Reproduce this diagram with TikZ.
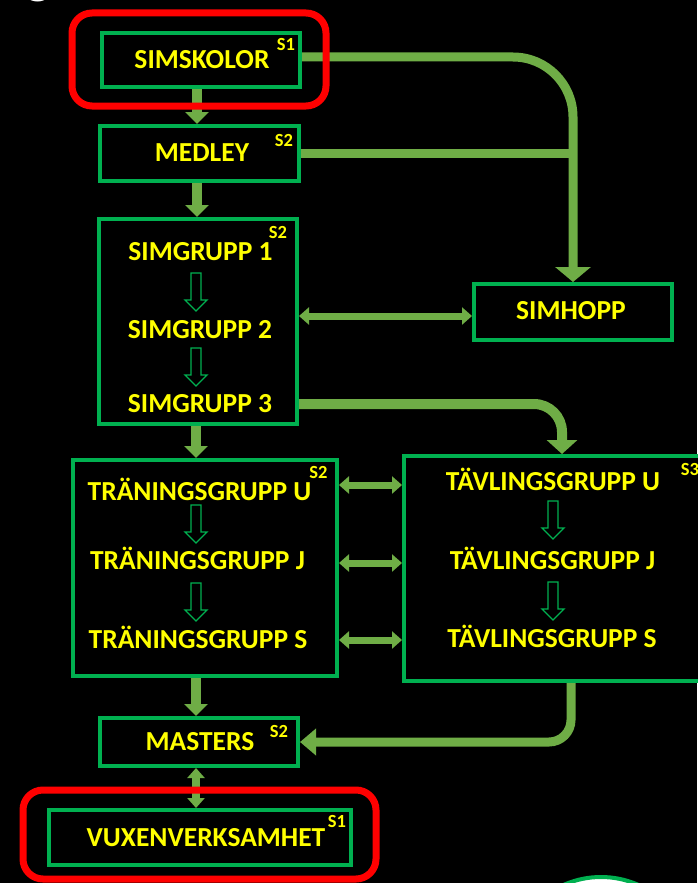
\documentclass[tikz,border=0pt]{standalone}
\usepackage{fontspec}
\setmainfont{Carlito}
\usetikzlibrary{arrows.meta,calc}
\definecolor{boxg}{HTML}{00B050}
\definecolor{cong}{HTML}{6FAD46}
\definecolor{ylw}{HTML}{FFFF00}
\tikzset{
  box/.style={draw=boxg, line width=4pt, fill=black, inner sep=0pt, rectangle},
  redbox/.style={draw=red, line width=7pt, rounded corners=20pt, inner sep=0pt, rectangle},
  lbl/.style={text=ylw, font=\fontsize{27.5}{30}\selectfont\bfseries, anchor=base, inner sep=0pt},
  suplbl/.style={text=ylw, font=\fontsize{18.5}{20}\selectfont\bfseries, anchor=base, inner sep=0pt},
  conn/.style={draw=cong, line width=10pt},
  dblconn/.style={draw=cong, line width=7pt, {Triangle[width=17pt,length=10pt]}-{Triangle[width=17pt,length=10pt]}},
  hdown/.pic={\draw[boxg, line width=1.3pt, fill=black] (-5,0) -- (-5,27) -- (-11,27) -- (0,38) -- (11,27) -- (5,27) -- (5,0) -- cycle;}
}
\begin{document}
\begin{tikzpicture}[x=1pt,y=-1pt]
\useasboundingbox (0,0) rectangle (697,883);
\fill[black] (0,0) rectangle (697,883);
% cut-off fragments
\node[text=white, font=\fontsize{55}{60}\selectfont, anchor=base, inner sep=0pt] (gfrag) at (38,-7) {g};
\draw[boxg, line width=4pt, fill=white] (601,969) circle (92);
% boxes
\node[box, minimum width=198, minimum height=54] (simsk) at (201,60) {};
\node[box, minimum width=199, minimum height=55] (medley) at (199.5,153.5) {};
\node[box, minimum width=198, minimum height=205] (simgrupp) at (198,321.5) {};
\node[box, minimum width=198, minimum height=56] (simhopp) at (573,312) {};
\node[box, minimum width=264, minimum height=216] (trgrupp) at (205,568) {};
\node[box, minimum width=308, minimum height=225] (tvgrupp) at (558,568.5) {};
\node[box, minimum width=198, minimum height=48] (masters) at (199,742) {};
\node[box, minimum width=302, minimum height=55] (vuxen) at (200,837.5) {};
% texts
\node[lbl] (tsimsk) at (202,68) {SIMSKOLOR};
\node[suplbl] (ssimsk) at (286,51) {S1};
\node[lbl] (tmedley) at (202,161) {MEDLEY};
\node[suplbl] (smedley) at (284,146) {S2};
\node[lbl] (tsg1) at (200.5,260) {SIMGRUPP 1};
\node[lbl] (tsg2) at (200,338) {SIMGRUPP 2};
\node[lbl] (tsg3) at (200,412) {SIMGRUPP 3};
\node[suplbl] (ssg) at (278,238) {S2};
\node[lbl] (tsimhopp) at (571,319) {SIMHOPP};
\node[lbl] (ttru) at (199.5,500) {TRÄNINGSGRUPP U};
\node[lbl] (ttrj) at (197.5,569) {TRÄNINGSGRUPP J};
\node[lbl] (ttrs) at (198,648) {TRÄNINGSGRUPP S};
\node[suplbl] (str) at (318.5,478) {S2};
\node[lbl] (ttvu) at (553,490) {TÄVLINGSGRUPP U};
\node[lbl] (ttvj) at (552.5,569) {TÄVLINGSGRUPP J};
\node[lbl] (ttvs) at (552,647) {TÄVLINGSGRUPP S};
\node[suplbl] (stv) at (690,475) {S3};
\node[lbl] (tmasters) at (200,750) {MASTERS};
\node[suplbl] (smasters) at (279,737) {S2};
\node[lbl] (tvuxen) at (206,846) {VUXENVERKSAMHET};
\node[suplbl] (svuxen) at (337,827) {S1};
% hollow inner arrows
\pic at (196,273) {hdown};
\pic at (196,348) {hdown};
\pic at (196,505) {hdown};
\pic at (196,583) {hdown};
\pic at (553,501) {hdown};
\pic at (553,582) {hdown};
% connectors
\draw[conn, -{Triangle[width=23pt,length=12pt]}] ([xshift=-4pt]simsk.south) -- ([xshift=-2.5pt]medley.north);
\draw[conn, -{Triangle[width=23pt,length=12pt]}] ([xshift=-2.5pt]medley.south) -- ([xshift=-1pt]simgrupp.north);
\draw[conn, -{Triangle[width=23pt,length=12pt]}] ([xshift=-2pt]simgrupp.south) -- ([xshift=-9pt]trgrupp.north);
\draw[conn, -{Triangle[width=23pt,length=12pt]}] ([xshift=-9pt]trgrupp.south) -- ([xshift=-3pt]masters.north);
\draw[draw=cong, line width=8pt, {Triangle[width=17pt,length=10pt]}-{Triangle[width=17pt,length=10pt]}] ([xshift=-3pt]masters.south) -- ([xshift=-4pt]vuxen.north);
\draw[conn, line width=9pt, rounded corners=60pt, -{Triangle[width=35pt,length=15pt]}] ([yshift=3pt]simsk.east) -| (simhopp.north);
\draw[conn, line width=9pt] (medley.east) -- (medley.east -| simhopp.north);
\coordinate (h1) at ([yshift=-4pt]simhopp.west);
\draw[dblconn] (simgrupp.east |- h1) -- (h1);
\draw[conn, rounded corners=28pt, -{Triangle[width=30pt,length=14pt]}] ([yshift=22pt]simgrupp.south east) -| ([xshift=4pt]tvgrupp.north);
\coordinate (a1) at ([yshift=83pt]trgrupp.east);
\coordinate (a2) at ([yshift=5pt]trgrupp.east);
\coordinate (a3) at ([yshift=-72pt]trgrupp.east);
\draw[dblconn] (a1) -- (a1 -| tvgrupp.west);
\draw[dblconn] (a2) -- (a2 -| tvgrupp.west);
\draw[dblconn] (a3) -- (a3 -| tvgrupp.west);
\draw[conn, line width=9pt, rounded corners=22pt, -{Triangle[width=26pt,length=16pt]}] ([xshift=13pt]tvgrupp.south) |- (masters.east);
% red highlight frames
\node[redbox, minimum width=254, minimum height=93] (red1) at (199,59.5) {};
\node[redbox, minimum width=353, minimum height=89] (red2) at (199.5,834.5) {};
\end{tikzpicture}
\end{document}
